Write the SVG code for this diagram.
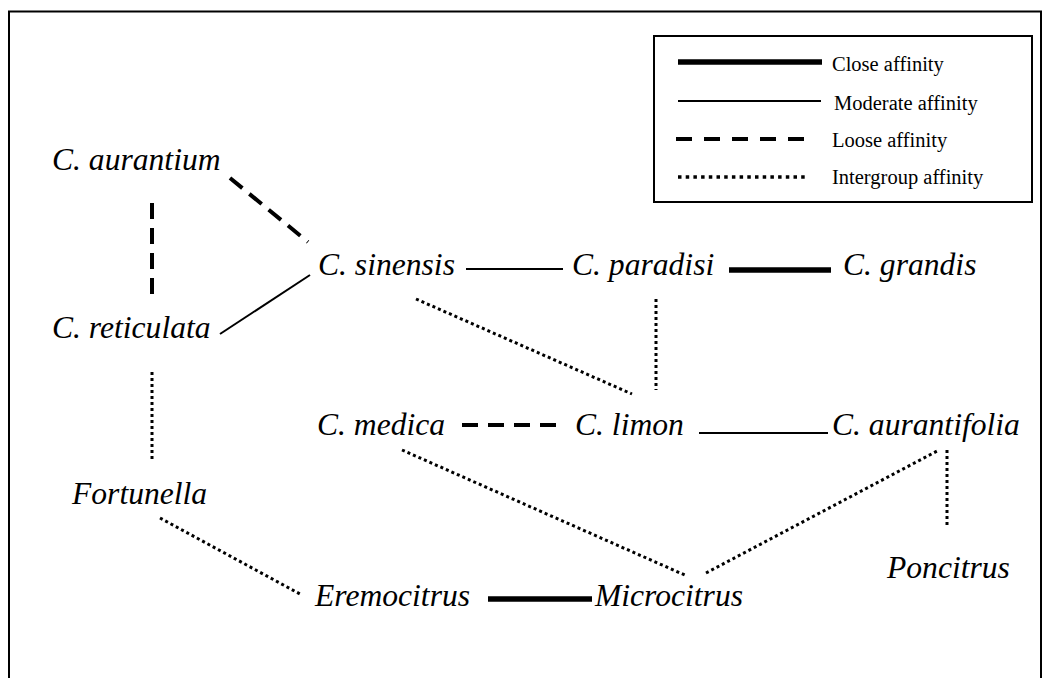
<svg xmlns="http://www.w3.org/2000/svg" width="1050" height="678" viewBox="0 0 1050 678">
<style>
  .node { font-family: "Liberation Serif", "Times New Roman", serif; font-style: italic; font-size: 31.6px; fill: #000; }
  .leg { font-family: "Liberation Serif", "Times New Roman", serif; font-size: 20.5px; fill: #000; }
  .close { stroke: #000; stroke-width: 5.5; fill: none; }
  .moderate { stroke: #000; stroke-width: 2; fill: none; }
  .loose { stroke: #000; stroke-width: 4; stroke-dasharray: 16 9; fill: none; }
  .inter { stroke: #000; stroke-width: 3; stroke-dasharray: 3 3; fill: none; }
</style>
<rect x="0" y="0" width="1050" height="678" fill="#fff"/>
<rect id="frame" x="9" y="11.5" width="1032" height="700" fill="none" stroke="#000" stroke-width="2"/>

<g id="legend">
  <rect x="654" y="36" width="378" height="166" fill="#fff" stroke="#000" stroke-width="2"/>
  <line class="close" x1="678" y1="62" x2="822" y2="62"/>
  <text class="leg" x="832" y="71">Close affinity</text>
  <line class="moderate" x1="678" y1="101" x2="821" y2="101"/>
  <text class="leg" x="834" y="110">Moderate affinity</text>
  <line class="loose" x1="676" y1="139" x2="804" y2="139" style="stroke-dasharray:16 12"/>
  <text class="leg" x="832" y="147">Loose affinity</text>
  <line class="inter" x1="678" y1="177" x2="808" y2="177" style="stroke-dasharray:3.5 4.2;stroke-width:3.5"/>
  <text class="leg" x="832" y="184">Intergroup affinity</text>
</g>

<g id="connectors">
  <line class="loose" x1="230" y1="178" x2="308" y2="242"/>
  <line class="loose" x1="152" y1="203" x2="152" y2="298"/>
  <line class="loose" x1="462" y1="425" x2="558" y2="425" style="stroke-dasharray:16 10"/>
  <line class="moderate" x1="220" y1="334" x2="310" y2="275"/>
  <line class="moderate" x1="466" y1="269" x2="563" y2="269"/>
  <line class="moderate" x1="699" y1="433" x2="828" y2="433"/>
  <line class="close" x1="729" y1="270" x2="831" y2="270"/>
  <line class="close" x1="488" y1="599" x2="592" y2="599"/>
  <line class="inter" x1="416" y1="299" x2="632" y2="394"/>
  <line class="inter" x1="656" y1="299" x2="656" y2="390"/>
  <line class="inter" x1="152" y1="372" x2="152" y2="462"/>
  <line class="inter" x1="160" y1="518" x2="300" y2="594"/>
  <line class="inter" x1="402" y1="450" x2="687" y2="576"/>
  <line class="inter" x1="706" y1="573" x2="939" y2="450"/>
  <line class="inter" x1="947" y1="450" x2="947" y2="525"/>
</g>

<g id="n-aurantium"><text class="node" x="52" y="170">C. aurantium</text></g>
<g id="n-reticulata"><text class="node" x="52" y="338">C. reticulata</text></g>
<g id="n-sinensis"><text class="node" x="318" y="275">C. sinensis</text></g>
<g id="n-paradisi"><text class="node" x="572" y="275">C. paradisi</text></g>
<g id="n-grandis"><text class="node" x="843" y="275">C. grandis</text></g>
<g id="n-medica"><text class="node" x="317" y="435">C. medica</text></g>
<g id="n-limon"><text class="node" x="575" y="435">C. limon</text></g>
<g id="n-aurantifolia"><text class="node" x="832" y="435">C. aurantifolia</text></g>
<g id="n-fortunella"><text class="node" x="72" y="504">Fortunella</text></g>
<g id="n-poncitrus"><text class="node" x="887" y="578">Poncitrus</text></g>
<g id="n-eremocitrus"><text class="node" x="315" y="606">Eremocitrus</text></g>
<g id="n-microcitrus"><text class="node" x="595" y="606">Microcitrus</text></g>
</svg>
